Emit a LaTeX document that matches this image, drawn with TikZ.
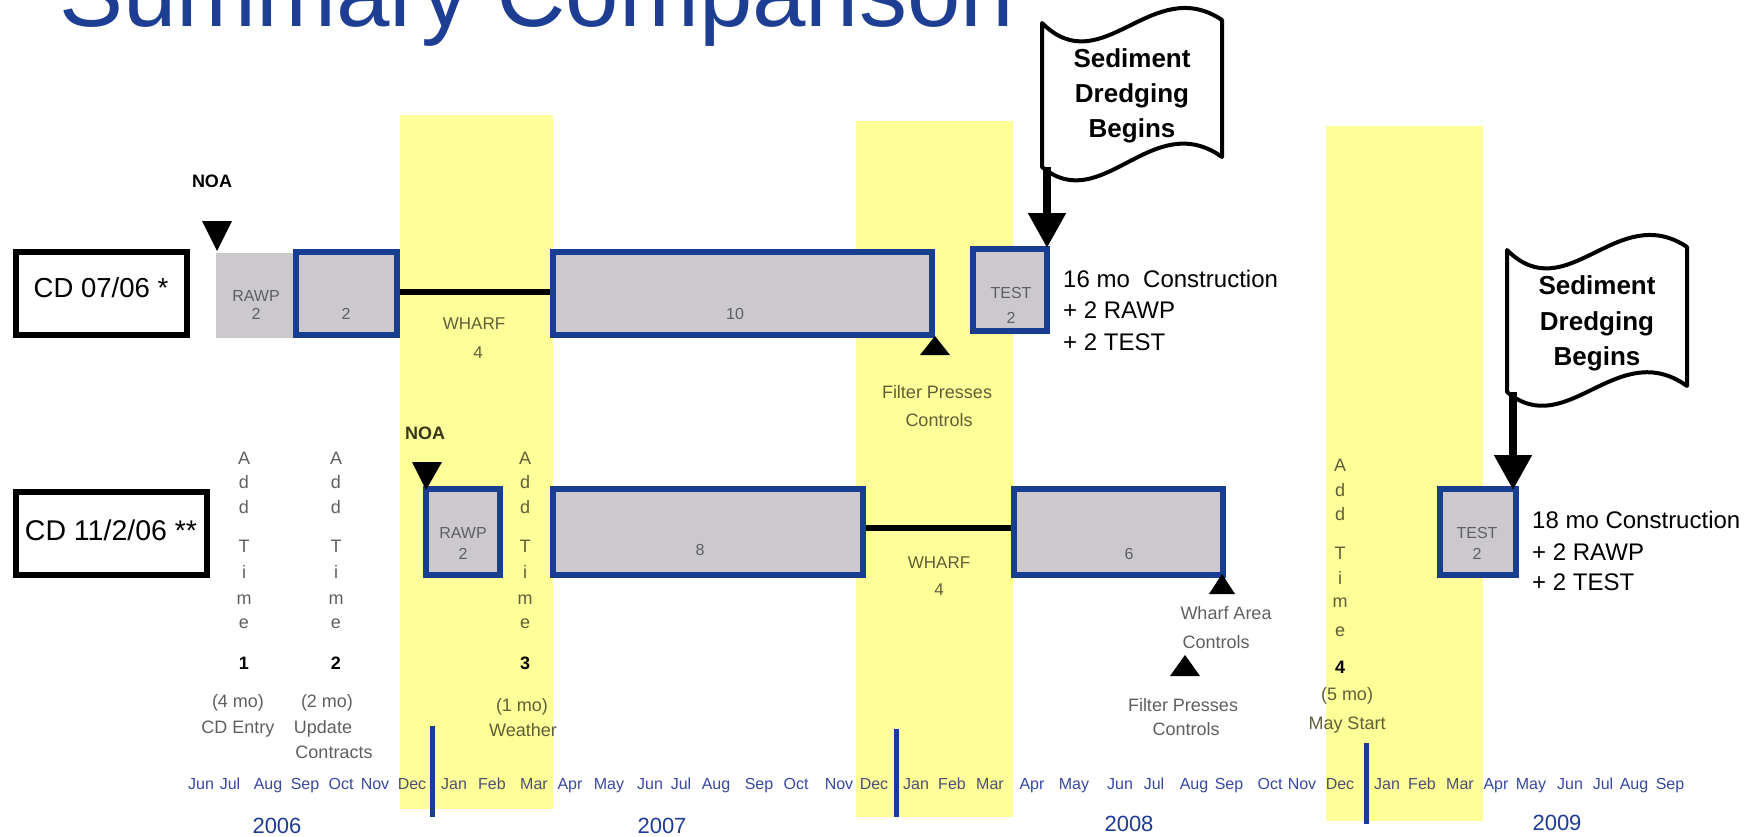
\documentclass[tikz,border=0pt]{standalone}
\usepackage{fontspec}
\setmainfont{Liberation Sans}
\usetikzlibrary{arrows.meta}
\definecolor{titleblue}{RGB}{30,62,148}
\definecolor{boxblue}{RGB}{24,62,145}
\definecolor{boxgray}{RGB}{203,201,205}
\definecolor{bandyellow}{RGB}{255,255,153}
\definecolor{labgray}{RGB}{95,95,95}
\definecolor{labolive}{RGB}{95,95,55}
\definecolor{noaolive}{RGB}{55,55,25}
\definecolor{monthblue}{RGB}{55,72,160}
\definecolor{monthband}{RGB}{75,80,115}
\definecolor{yearblue}{RGB}{30,60,150}
\newcommand\fsz[1]{\fontsize{#1}{#1}\selectfont}
\tikzset{
  cdbox/.style={draw=black, line width=6pt, fill=white, inner sep=0pt},
  bluebox/.style={draw=boxblue, line width=6pt, fill=boxgray, inner sep=0pt},
  graybox/.style={fill=boxgray, draw=none, inner sep=0pt},
  boxlab/.style={font=\fsz{16}, text=labgray, inner sep=0pt, anchor=base},
  lab/.style={font=\fsz{18}, text=labgray, inner sep=0pt, anchor=base},
  labin/.style={lab, text=labolive},
  wharflab/.style={font=\fsz{17}, text=labolive, inner sep=0pt, anchor=base},
  addt/.style={font=\fsz{18}, text=labgray, inner sep=0pt, anchor=center},
  addtin/.style={addt, text=labolive},
  addn/.style={font=\bfseries\fsz{18}, text=black, inner sep=0pt, anchor=center},
  noalab/.style={font=\bfseries\fsz{18}, inner sep=0pt, anchor=base},
  month/.style={font=\fsz{16}, text=monthblue, inner sep=0pt, anchor=base},
  monthin/.style={month, text=monthband},
  year/.style={font=\fsz{22}, text=yearblue, inner sep=0pt, anchor=base},
  constr/.style={font=\fsz{24}, inner sep=0pt, anchor=base west},
  flagtxt/.style={font=\bfseries\fsz{26}, inner sep=0pt, anchor=base},
  conn/.style={line width=6pt, draw=black},
  flagarrow/.style={line width=8pt, draw=black, -{Triangle[width=36pt,length=35pt]}},
  flagshape/.style={draw=black, line width=4pt, fill=white, line join=round},
  vline/.style={draw=boxblue, line width=5pt},
  cdtxt/.style={font=\fsz{27.5}, inner sep=0pt, anchor=base}
}
\begin{document}
\begin{tikzpicture}[x=1pt,y=-1pt]
\useasboundingbox (0,0) rectangle (1752,837);
\clip (0,0) rectangle (1752,837);

% yellow bands
\fill[bandyellow] (400,115) rectangle (553,809);
\fill[bandyellow] (856,121) rectangle (1013,817);
\fill[bandyellow] (1326,126) rectangle (1483,821);

% title
\node[font=\fsz{96}, text=titleblue, anchor=base west, inner sep=0pt] (title) at (59,27) {Summary Comparison};

% ---------- row 1 ----------
\node[cdbox, minimum width=171pt, minimum height=83pt] (cd1) at (101.5,293.5) {};
\node[cdtxt] (cd1t) at (101,297) {CD 07/06 *};

\node[graybox, minimum width=77pt, minimum height=85pt] (rawp1) at (254.5,295.5) {};
\node[bluebox, minimum width=101pt, minimum height=83pt] (box2) at (346.5,293.5) {};
\node[bluebox, minimum width=379pt, minimum height=83pt] (box10) at (742.5,293.5) {};
\draw[conn] ([yshift=1.5pt]box2.east) -- ([yshift=1.5pt]box10.west);
\node[bluebox, minimum width=101pt, minimum height=83pt] at (box2) {};
\node[bluebox, minimum width=379pt, minimum height=83pt] at (box10) {};
\node[bluebox, minimum width=74pt, minimum height=82pt] (test1) at (1010,290) {};

\node[boxlab] (rawp1a) at (256,301) {RAWP};
\node[boxlab] (rawp1b) at (256,319) {2};
\node[boxlab] (box2t) at (346,319) {2};
\node[boxlab] (box10t) at (735,319) {10};
\node[boxlab] (test1a) at (1011,298) {TEST};
\node[boxlab] (test1b) at (1011,323) {2};

\node[wharflab] (wh1a) at (474,329) {WHARF};
\node[wharflab] (wh1b) at (478,358) {4};

\node[noalab] (noa1) at (212,188) {NOA};
\fill (202,221) -- (232,221) -- (217,251) -- cycle;

\fill (920,355) -- (950,355) -- (935,336) -- cycle;
\node[labin] (fp1a) at (937,398) {Filter Presses};
\node[labin] (fp1b) at (939,426) {Controls};

% flag 1
\draw[flagshape] (1042,23) .. controls (1102,83) and (1152,-27) .. (1222,20) -- (1222,157) .. controls (1152,107) and (1102,217) .. (1042,167) -- cycle;
\node[flagtxt] (f1a) at (1132,68) {Sediment};
\node[flagtxt] (f1b) at (1132,103) {Dredging};
\node[flagtxt] (f1c) at (1132,138) {Begins};
\coordinate (f1pole) at (1047,167);
\coordinate (f1tip) at (1047,248);
\draw[flagarrow] (f1pole) -- (f1tip);

\node[constr] (c1a) at (1063,287) {16 mo\ \ Construction};
\node[constr] (c1b) at (1063,318) {+ 2 RAWP};
\node[constr] (c1c) at (1063,350) {+ 2 TEST};

% ---------- row 2 ----------
\node[cdbox, minimum width=191pt, minimum height=83pt] (cd2) at (111.5,533.5) {};
\node[cdtxt, font=\fsz{28.5}] (cd2t) at (111,540) {CD 11/2/06 **};

\node[bluebox, minimum width=74pt, minimum height=86pt] (rawp2) at (463,532) {};
\node[bluebox, minimum width=310pt, minimum height=86pt] (box8) at (708,532) {};
\node[bluebox, minimum width=209pt, minimum height=86pt] (box6) at (1118.5,532) {};
\draw[conn] ([yshift=4pt]box8.east) -- ([yshift=4pt]box6.west);
\node[bluebox, minimum width=310pt, minimum height=86pt] at (box8) {};
\node[bluebox, minimum width=209pt, minimum height=86pt] at (box6) {};
\node[bluebox, minimum width=76pt, minimum height=86pt] (test2) at (1478,532) {};

\node[boxlab] (rawp2a) at (463,538) {RAWP};
\node[boxlab] (rawp2b) at (463,559) {2};
\node[boxlab] (box8t) at (700,555) {8};
\node[boxlab] (box6t) at (1129,559) {6};
\node[boxlab] (test2a) at (1477,538) {TEST};
\node[boxlab] (test2b) at (1477,559) {2};

\node[wharflab] (wh2a) at (939,568) {WHARF};
\node[wharflab] (wh2b) at (939,595) {4};

\node[noalab, text=noaolive] (noa2) at (425,439) {NOA};
\fill (412,462) -- (442,462) -- (426,490) -- cycle;

\fill (1209,594) -- (1235,594) -- (1222,574) -- cycle;
\node[lab] (wa1) at (1226,619) {Wharf Area};
\node[lab] (wa2) at (1216,648) {Controls};
\fill (1170,676) -- (1200,676) -- (1185,655) -- cycle;
\node[lab] (fp2a) at (1183,711) {Filter Presses};
\node[lab] (fp2b) at (1186,735) {Controls};

% flag 2
\draw[flagshape] (1507,250) .. controls (1567,310) and (1617,200) .. (1687,247) -- (1687,386) .. controls (1617,336) and (1567,442) .. (1507,392) -- cycle;
\node[flagtxt] (f2a) at (1597,294) {Sediment};
\node[flagtxt] (f2b) at (1597,330) {Dredging};
\node[flagtxt] (f2c) at (1597,365) {Begins};
\coordinate (f2pole) at (1513,392);
\coordinate (f2tip) at (1513,490);
\draw[flagarrow] (f2pole) -- (f2tip);

\node[constr] (c2a) at (1532,528) {18 mo Construction};
\node[constr] (c2b) at (1532,560) {+ 2 RAWP};
\node[constr] (c2c) at (1532,590) {+ 2 TEST};

% ---------- add time columns ----------
\foreach \ch/\yy [count=\k] in {A/458,d/482,d/507,T/546,i/572,m/600,e/624} {
  \node[addt] (ta\k) at (244,\yy) {\ch};
  \node[addt] (tb\k) at (336,\yy) {\ch};
  \node[addtin] (tc\k) at (525,\yy) {\ch};
}
\foreach \ch/\yy [count=\k] in {A/465,d/490,d/514,T/553,i/578,m/603,e/632} {
  \node[addtin] (td\k) at (1340,\yy) {\ch};
}
\node[addn] (na) at (244,663) {1};
\node[addn] (nb) at (336,663) {2};
\node[addn] (nc) at (525,663) {3};
\node[addn] (nd) at (1340,667) {4};

\node[lab] (l1a) at (238,707) {(4 mo)};
\node[lab] (l1b) at (238,733) {CD Entry};
\node[lab] (l2a) at (327,707) {(2 mo)};
\node[lab] (l2b) at (323,733) {Update};
\node[lab] (l2c) at (334,758) {Contracts};
\node[labin] (l3a) at (522,711) {(1 mo)};
\node[labin] (l3b) at (523,736) {Weather};
\node[labin] (l4a) at (1347,700) {(5 mo)};
\node[labin] (l4b) at (1347,729) {May Start};

% ---------- time axis ----------
\coordinate (v1a) at (432,726); \coordinate (v1b) at (432,817);
\coordinate (v2a) at (896,729); \coordinate (v2b) at (896,817);
\coordinate (v3a) at (1366,743); \coordinate (v3b) at (1366,824);
\draw[vline] (v1a) -- (v1b);
\draw[vline] (v2a) -- (v2b);
\draw[vline] (v3a) -- (v3b);

\foreach \m/\xx in {Jun/201,Jul/230,Aug/268,Sep/305,Oct/341,Nov/375,
  Apr/570,May/609,Jun/650,Jul/681,Aug/716,Sep/759,Oct/796,Nov/839,
  Apr/1032,May/1074,Jun/1120,Jul/1154,Aug/1194,Sep/1229,Oct/1270,Nov/1302,
  Apr/1496,May/1531,Jun/1570,Jul/1603,Aug/1634,Sep/1670} {
  \node[month] (m\xx) at (\xx,789) {\m};
}
\foreach \m/\xx in {Dec/412,Jan/454,Feb/492,Mar/534,
  Dec/874,Jan/916,Feb/952,Mar/990,
  Dec/1340,Jan/1387,Feb/1422,Mar/1460} {
  \node[monthin] (m\xx) at (\xx,789) {\m};
}
\node[year] (y6) at (277,833) {2006};
\node[year] (y7) at (662,833) {2007};
\node[year] (y8) at (1129,831) {2008};
\node[year] (y9) at (1557,830) {2009};
\end{tikzpicture}
\end{document}
